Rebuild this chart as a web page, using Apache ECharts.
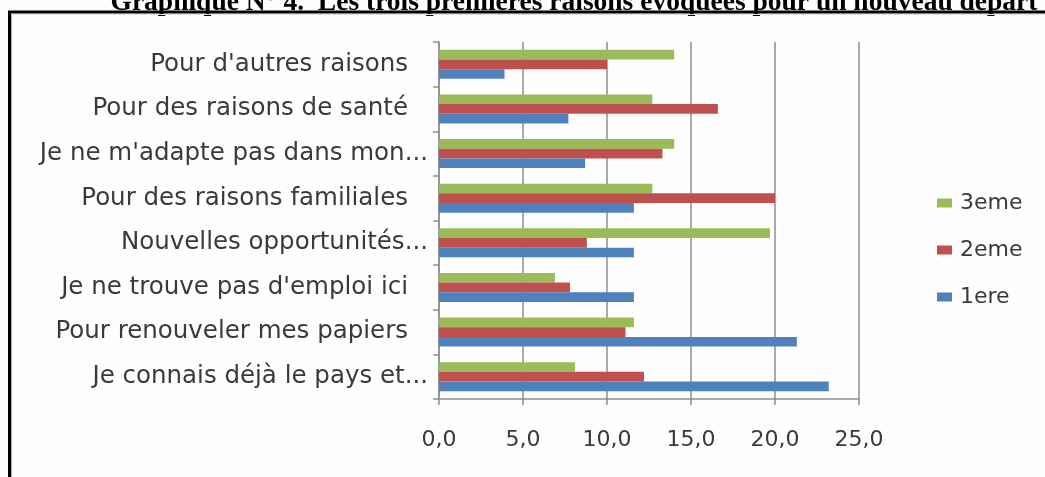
<!DOCTYPE html>
<html>
<head>
<meta charset="utf-8">
<script src="https://cdn.jsdelivr.net/npm/echarts@6/dist/echarts.min.js"></script>
<style>html,body{margin:0;padding:0;background:#fff}#c{width:1045px;height:477px}</style>
</head>
<body>
<div id="c"></div>
<script>
// Categories listed from bottom to top (as on the value axis origin side)
const categories = [
  "Je connais déjà le pays et...",
  "Pour renouveler mes papiers",
  "Je ne trouve pas d'emploi ici",
  "Nouvelles opportunités...",
  "Pour des raisons familiales",
  "Je ne m'adapte pas dans mon...",
  "Pour des raisons de santé",
  "Pour d'autres raisons"
];
const values3eme = [8.1, 11.6, 6.9, 19.7, 12.7, 14.0, 12.7, 14.0];
const values2eme = [12.2, 11.1, 7.8, 8.8, 20.0, 13.3, 16.6, 10.0];
const values1ere = [23.2, 21.3, 11.6, 11.6, 11.6, 8.7, 7.7, 3.9];
const seriesNames = ["3eme", "2eme", "1ere"];
const xTicks = [0, 5, 10, 15, 20, 25];
const titleText = "Graphique N° 4.  Les trois premières raisons évoquées pour un nouveau départ";

const chart = echarts.init(document.getElementById('c'));
const gridCol = '#8e8e8e';
const txt = '#3a3a3a';
const font = 'DejaVu Sans';
chart.setOption({
  backgroundColor: '#fefefe',
  animation: false,
  textStyle: { fontFamily: font },
  grid: { left: 439, top: 42, width: 420, height: 357, containLabel: false },
  legend: {
    orient: 'vertical', left: 932, top: 187, itemWidth: 15, itemHeight: 9, itemGap: 25,
    icon: 'rect', data: seriesNames,
    textStyle: { fontFamily: font, fontSize: 22, color: txt, padding: [0, 0, 0, 3] }
  },
  xAxis: {
    type: 'value', min: xTicks[0], max: xTicks[xTicks.length - 1], interval: 5,
    axisLine: { show: true, lineStyle: { color: gridCol, width: 1.5 } },
    axisTick: { show: true, length: 6, lineStyle: { color: gridCol, width: 1.5 } },
    splitLine: { show: true, lineStyle: { color: gridCol, width: 1.5 } },
    axisLabel: { margin: 30, fontSize: 22, color: txt, fontFamily: font,
      formatter: v => v.toFixed(1).replace('.', ',') }
  },
  yAxis: {
    type: 'category', data: categories,
    axisLine: { show: true, lineStyle: { color: gridCol, width: 1.5 } },
    axisTick: { show: true, length: 6, lineStyle: { color: gridCol, width: 1.5 } },
    axisLabel: {
      margin: 11, color: txt, fontSize: 24.5, fontFamily: font,
      formatter: v => v.endsWith('...') ? '{a|' + v + '}' : '{b|' + v + '}',
      rich: {
        a: { fontSize: 24.5, fontFamily: font, color: txt, padding: [0, 0, 0, 0] },
        b: { fontSize: 24.5, fontFamily: font, color: txt, padding: [0, 20, 0, 0] }
      }
    }
  },
  series: [
    { name: '3eme', type: 'bar', data: values3eme, itemStyle: { color: '#9bbb59' }, barGap: '0%', barCategoryGap: '35%' },
    { name: '2eme', type: 'bar', data: values2eme, itemStyle: { color: '#c0504d' }, barGap: '0%', barCategoryGap: '35%' },
    { name: '1ere', type: 'bar', data: values1ere, itemStyle: { color: '#4f81bd' }, barGap: '0%', barCategoryGap: '35%' }
  ],
  graphic: [
    { type: 'text', x: 574, y: 3, z: 1, style: { text: titleText, font: 'bold 27.5px "Liberation Serif"', fill: '#000', align: 'center', verticalAlign: 'middle' } },
    { type: 'line', z: 20, shape: { x1: 8, y1: 12, x2: 1045, y2: 12 }, style: { stroke: '#000', lineWidth: 3 } },
    { type: 'line', z: 20, shape: { x1: 9.5, y1: 11, x2: 9.5, y2: 477 }, style: { stroke: '#000', lineWidth: 3 } },
    { type: 'line', z: 20, shape: { x1: 11.5, y1: 14, x2: 11.5, y2: 477 }, style: { stroke: '#aaa', lineWidth: 1 } },
    { type: 'line', z: 20, shape: { x1: 11, y1: 14.5, x2: 1045, y2: 14.5 }, style: { stroke: '#e2e2e2', lineWidth: 1 } }
  ]
});
</script>
</body>
</html>
